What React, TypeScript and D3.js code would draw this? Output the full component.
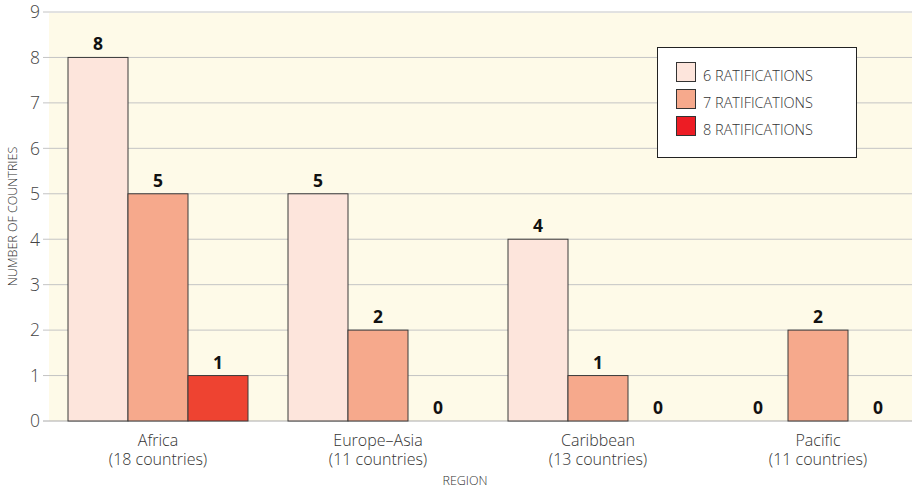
import React from "react";
import * as d3 from "d3";

const regions = ["Africa", "Europe–Asia", "Caribbean", "Pacific"];
const regionSub = ["(18 countries)", "(11 countries)", "(13 countries)", "(11 countries)"];
const seriesNames = ["6 RATIFICATIONS", "7 RATIFICATIONS", "8 RATIFICATIONS"];
const six = [8, 5, 4, 0];
const seven = [5, 2, 1, 2];
const eight = [1, 0, 0, 0];
const yTicks = [0, 1, 2, 3, 4, 5, 6, 7, 8, 9];

const barColors = ["#fde5dc", "#f6a98c", "#ee4331"];
const legendColors = ["#fde5dc", "#f6a98c", "#ed1c24"];
const FONT = "'Open Sans', 'DejaVu Sans', sans-serif";

export default function App() {
  const W = 912, H = 492;
  const plotLeft = 49, plotRight = 912, plotTop = 13, plotBottom = 421;
  const y = d3.scaleLinear().domain([0, 9]).range([421, 12]);
  const x0 = d3.scaleBand().domain(regions).range([48, 928]).paddingInner(40 / 220).paddingOuter(20 / 220);
  const x1 = d3.scaleBand().domain(seriesNames).range([0, x0.bandwidth()]);
  const series = [six, seven, eight];

  return (
    <svg width={W} height={H} style={{ position: "absolute", left: 0, top: 0, background: "#fff" }} fontFamily={FONT}>
      <rect x={plotLeft} y={plotTop} width={plotRight - plotLeft} height={plotBottom - plotTop} fill="#fefae8" />
      {yTicks.map((t) => (
        <g key={t}>
          <line x1={43} x2={912} y1={y(t)} y2={y(t)} stroke={t === 0 ? "#aaa" : "#c4c4c4"} strokeWidth={1} />
          <text x={40} y={y(t)} dy="0.36em" textAnchor="end" fontSize={17.5} fontWeight={300} fill="#444">{t}</text>
        </g>
      ))}
      {regions.map((r, i) => (
        <g key={r} transform={`translate(${x0(r)},0)`}>
          {series.map((s, j) => {
            const v = s[i];
            const bx = x1(seriesNames[j])!;
            const bw = x1.bandwidth();
            return (
              <g key={j}>
                {v > 0 && (
                  <rect x={bx} y={y(v)} width={bw} height={y(0) - y(v)} fill={barColors[j]} stroke="#3a3a3a" strokeWidth={1} />
                )}
                <text x={bx + bw / 2} y={y(v) - 7} textAnchor="middle" fontSize={17.5} fontWeight={700} fill="#111">{v}</text>
              </g>
            );
          })}
          <text x={x0.bandwidth() / 2} y={446} textAnchor="middle" fontSize={16} fontWeight={300} fill="#333">{r}</text>
          <text x={x0.bandwidth() / 2} y={465} textAnchor="middle" fontSize={16} fontWeight={300} fill="#333">{regionSub[i]}</text>
        </g>
      ))}
      <text x={465} y={485} textAnchor="middle" fontSize={12.5} fontWeight={300} fill="#333">REGION</text>
      <text transform={`translate(17,${y(4.5)}) rotate(-90)`} textAnchor="middle" fontSize={12.5} fontWeight={300} fill="#333">NUMBER OF COUNTRIES</text>
      <g>
        <rect x={657.5} y={47.5} width={199} height={110} fill="#fff" stroke="#222" strokeWidth={1} />
        {seriesNames.map((n, j) => (
          <g key={n} transform={`translate(676,${62 + j * 27})`}>
            <rect x={0.5} y={0.5} width={19} height={19} fill={legendColors[j]} stroke="#333" strokeWidth={1} />
            <text x={27} y={14} dy="0.35em" fontSize={14.5} fontWeight={300} fill="#333">{n}</text>
          </g>
        ))}
      </g>
    </svg>
  );
}
